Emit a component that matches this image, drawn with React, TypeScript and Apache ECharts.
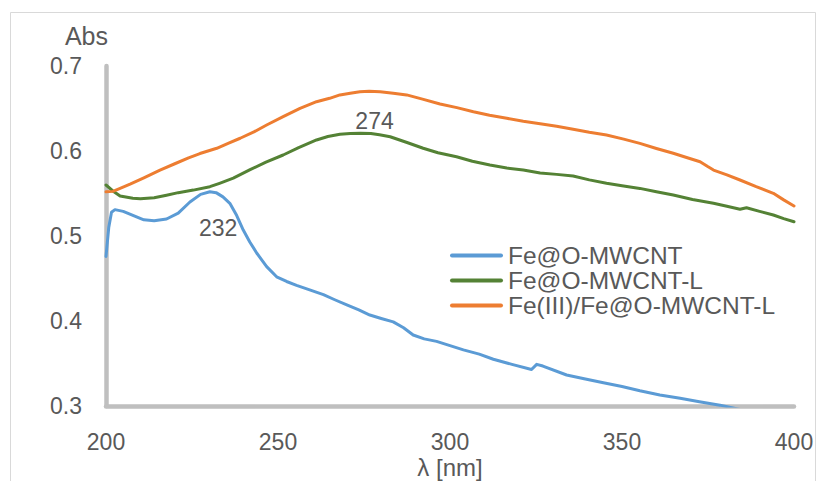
import React, { useEffect, useRef } from "react";
import * as echarts from "echarts";

// UV-Vis absorbance spectra (λ in nm, absorbance)
const seriesNames = ["Fe@O-MWCNT", "Fe@O-MWCNT-L", "Fe(III)/Fe@O-MWCNT-L"];
const seriesColors = ["#5B9BD5", "#548235", "#ED7D31"];

const xTicks = [200, 250, 300, 350, 400];
const yTicks = [0.3, 0.4, 0.5, 0.6, 0.7];

const blueWavelength = [
  200, 200.8, 201.6, 202.6, 205, 208, 211, 214, 217.6, 221, 224.4, 227.5, 230.2, 232, 234, 236, 238,
  239.9, 241.8, 243.8, 246.7, 249.6, 252.5, 255.4, 259, 263.2, 266.5, 270, 273.5, 276.7, 280, 283.5,
  286.5, 289.3, 292.5, 296.1, 300, 303.9, 308.5, 312.6, 318, 323.7, 325.2, 327, 333.9, 339, 344.6,
  350, 355.2, 361, 366.9, 372.5, 378.5, 384.3, 390, 400,
];
const blueAbs = [
  0.476, 0.51, 0.528, 0.531, 0.529, 0.524, 0.519, 0.518, 0.52, 0.527, 0.54, 0.549, 0.552, 0.551,
  0.546, 0.5385, 0.524, 0.507, 0.493, 0.48, 0.464, 0.452, 0.4465, 0.442, 0.437, 0.431, 0.425, 0.419,
  0.413, 0.407, 0.403, 0.399, 0.392, 0.3835, 0.379, 0.376, 0.371, 0.366, 0.361, 0.355, 0.349, 0.343,
  0.349, 0.347, 0.3365, 0.332, 0.3274, 0.323, 0.318, 0.313, 0.309, 0.305, 0.301, 0.296, 0.292, 0.285,
];

const greenWavelength = [
  200, 202, 204.1, 207.8, 210, 214, 217.6, 221, 225.4, 230.2, 233, 237, 241.9, 246.5, 251.5, 256,
  261.2, 264.5, 268, 271, 274, 277, 279.5, 282.6, 287.5, 292.2, 296.5, 301.9, 306.5, 311.6, 316.5,
  321.3, 326.2, 331, 335.8, 340.5, 345.5, 350, 355.2, 360, 364.9, 370.5, 376.6, 380.5, 384.3, 386.2,
  390, 394, 397, 400,
];
const greenAbs = [
  0.56, 0.553, 0.547, 0.5443, 0.5437, 0.545, 0.548, 0.551, 0.554, 0.558, 0.562, 0.568, 0.578, 0.587,
  0.5953, 0.604, 0.613, 0.617, 0.6196, 0.6206, 0.621, 0.6205, 0.619, 0.6168, 0.61, 0.6032, 0.598,
  0.5933, 0.588, 0.5835, 0.58, 0.5776, 0.574, 0.5725, 0.5706, 0.566, 0.562, 0.559, 0.556, 0.552,
  0.5482, 0.543, 0.5385, 0.535, 0.5314, 0.5333, 0.529, 0.5247, 0.5205, 0.5168,
];

const orangeWavelength = [
  200, 202, 204.1, 207, 211, 215.7, 220, 224, 227.3, 232.2, 235.5, 239, 243, 246.7, 251.5, 256.4,
  261.2, 265, 268, 271, 273.8, 276.5, 279.7, 283.5, 287.4, 292, 297.1, 302, 306.8, 311.5, 316.5,
  321.3, 326.2, 331, 335.8, 340.5, 345.5, 350.5, 355.2, 360, 364.9, 369, 372.7, 374.8, 376.6, 380.5,
  384.3, 389, 394, 397, 400,
];
const orangeAbs = [
  0.552, 0.5525, 0.556, 0.561, 0.5685, 0.5776, 0.585, 0.592, 0.597, 0.6032, 0.609, 0.615, 0.6225,
  0.6306, 0.6405, 0.6502, 0.658, 0.662, 0.666, 0.668, 0.6698, 0.6703, 0.6698, 0.668, 0.666, 0.661,
  0.6553, 0.651, 0.6462, 0.642, 0.6385, 0.635, 0.632, 0.629, 0.6255, 0.622, 0.6188, 0.614, 0.609,
  0.603, 0.5973, 0.592, 0.5874, 0.582, 0.5776, 0.572, 0.5659, 0.558, 0.5502, 0.5425, 0.5353,
];

// wavelengths whose points carry a peak label
const bluePeakAt = 232;
const greenPeakAt = 274;

const textColor = "#595959";
const axisColor = "#BFBFBF";
const fontFamily = "'Liberation Sans', Arial, sans-serif";

// rounded 4px bar used as the legend's line key
const legendKey = "path://M2,0 L51,0 A2,2 0 0 1 51,4 L2,4 A2,2 0 0 1 2,0 Z";

function buildData(xs: number[], ys: number[], peakAt: number | null, label: any) {
  return xs.map((x, i) =>
    x === peakAt ? { value: [x, ys[i]], label } : { value: [x, ys[i]] }
  );
}

export default function App() {
  const ref = useRef<HTMLDivElement>(null);

  useEffect(() => {
    if (!ref.current) return;
    const chart = echarts.init(ref.current, undefined, { renderer: "svg" });

    const peakLabelBase = {
      show: true,
      color: textColor,
      fontSize: 23,
      fontFamily,
      formatter: (p: any) => String(p.value[0]),
    };

    const lineSeries = (idx: number, data: any[]) => ({
      name: seriesNames[idx],
      type: "line",
      data,
      symbol: "circle",
      symbolSize: 0,
      showSymbol: true,
      showAllSymbol: true,
      smooth: false,
      clip: true,
      color: seriesColors[idx],
      itemStyle: { color: seriesColors[idx] },
      label: { show: false },
      lineStyle: { width: 3, color: seriesColors[idx], cap: "round", join: "round" },
      emphasis: { disabled: true },
      z: 3 + idx,
    });

    const option: any = {
      animation: false,
      textStyle: { fontFamily },
      graphic: [
        {
          type: "rect",
          shape: { x: 10.5, y: 12.5, width: 805, height: 490 },
          style: { fill: "none", stroke: "#D9D9D9", lineWidth: 1 },
          silent: true,
          z: -10,
        },
      ],
      grid: {
        left: 106,
        right: 32,
        top: 66,
        bottom: 75,
        containLabel: false,
        outerBoundsMode: "none",
      },
      legend: {
        orient: "vertical",
        left: 450,
        top: 243,
        padding: 0,
        itemWidth: 53,
        itemHeight: 4,
        itemGap: 0,
        icon: legendKey,
        data: seriesNames.map((n, i) => ({
          name: n,
          itemStyle: { color: seriesColors[i] },
        })),
        textStyle: {
          color: textColor,
          fontSize: 24.5,
          lineHeight: 25,
          fontFamily,
        },
      },
      xAxis: {
        type: "value",
        min: xTicks[0],
        max: xTicks[xTicks.length - 1],
        interval: xTicks[1] - xTicks[0],
        name: "λ [nm]",
        nameLocation: "middle",
        nameGap: 49,
        nameMoveOverlap: false,
        nameTextStyle: { color: textColor, fontSize: 24, lineHeight: 24, fontFamily },
        axisLine: { show: true, lineStyle: { color: axisColor, width: 4.5 } },
        axisTick: { show: false },
        splitLine: { show: false },
        axisLabel: { color: textColor, fontSize: 23, margin: 24, fontFamily },
      },
      yAxis: {
        type: "value",
        min: yTicks[0],
        max: yTicks[yTicks.length - 1],
        interval: 0.1,
        name: "Abs",
        nameLocation: "end",
        nameGap: 18,
        nameTextStyle: {
          color: textColor,
          fontSize: 25,
          fontFamily,
          align: "right",
          padding: [0, -2, 0, 0],
        },
        axisLine: { show: true, lineStyle: { color: axisColor, width: 4.5 } },
        axisTick: { show: false },
        splitLine: { show: false },
        axisLabel: {
          color: textColor,
          fontSize: 23,
          margin: 24,
          fontFamily,
          formatter: (v: number) => v.toFixed(1),
        },
      },
      series: [
        lineSeries(
          0,
          buildData(blueWavelength, blueAbs, bluePeakAt, {
            ...peakLabelBase,
            position: "bottom",
            distance: 24,
            offset: [2, 0],
          })
        ),
        lineSeries(
          1,
          buildData(greenWavelength, greenAbs, greenPeakAt, {
            ...peakLabelBase,
            position: "top",
            distance: 1,
            offset: [14, 0],
          })
        ),
        lineSeries(2, buildData(orangeWavelength, orangeAbs, null, {})),
      ],
    };

    chart.setOption(option);
    return () => chart.dispose();
  }, []);

  return (
    <div
      ref={ref}
      style={{ position: "fixed", left: 0, top: 0, width: 826, height: 481, background: "#fff" }}
    />
  );
}
